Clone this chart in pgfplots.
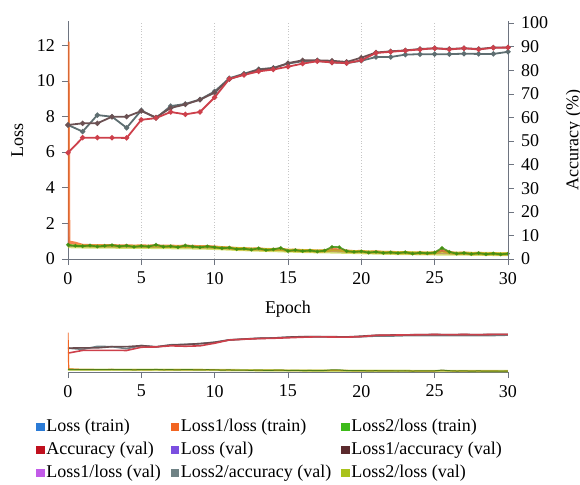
\documentclass[border=0pt]{standalone}
\usepackage{fontspec}
\setmainfont{Liberation Serif}
\usepackage{pgfplots}
\pgfplotsset{compat=1.18}
\usepackage{pgfplotstable}

\definecolor{clossT}{HTML}{2B7BD6}
\definecolor{cl1lossT}{HTML}{F26522}
\definecolor{cl2lossT}{HTML}{3DBB1A}
\definecolor{caccV}{HTML}{C0101E}
\definecolor{clossV}{HTML}{7B4FE0}
\definecolor{cl1accV}{HTML}{5B2A2E}
\definecolor{cl1lossV}{HTML}{C25BE8}
\definecolor{cl2accV}{HTML}{6F8285}
\definecolor{cl2lossV}{HTML}{A9C21B}
\definecolor{axisc}{HTML}{6E7480}

% validation accuracy, one row per epoch
\pgfplotstableread{
epoch accval l1acc l2acc
0  45.0 56.8 56.8
1  51.4 57.5 54.0
2  51.4 57.5 61.0
3  51.4 60.3 60.3
4  51.3 60.3 55.6
5  59.0 62.7 63.0
6  59.7 60.0 59.7
7  62.3 64.0 64.8
8  61.3 65.5 65.7
9  62.3 67.5 67.6
10 68.5 70.5 71.0
11 76.3 76.2 76.6
12 78.0 78.3 78.5
13 79.5 80.2 80.4
14 80.3 80.8 81.0
15 81.5 83.0 82.8
16 82.8 84.2 83.8
17 83.8 84.2 84.0
18 83.3 84.0 83.3
19 83.0 83.5 83.0
20 84.2 85.3 84.0
21 87.3 87.5 85.6
22 87.8 88.0 85.6
23 88.3 88.4 86.6
24 88.8 89.0 86.8
25 89.3 89.3 86.8
26 88.8 89.0 86.8
27 89.3 89.3 87.0
28 88.8 89.0 86.9
29 89.5 89.6 86.9
30 89.6 89.6 87.8
}\acctable

% validation losses, one row per epoch
\pgfplotstableread{
epoch lossval l1lossval l2lossval
0  0.72 0.74 0.72
1  0.70 0.72 0.70
2  0.70 0.71 0.70
3  0.69 0.70 0.69
4  0.68 0.70 0.68
5  0.68 0.69 0.68
6  0.67 0.68 0.67
7  0.66 0.67 0.66
8  0.65 0.66 0.65
9  0.64 0.65 0.64
10 0.62 0.63 0.62
11 0.58 0.59 0.58
12 0.55 0.56 0.55
13 0.52 0.53 0.52
14 0.50 0.51 0.50
15 0.47 0.48 0.47
16 0.45 0.46 0.45
17 0.43 0.44 0.43
18 0.42 0.43 0.42
19 0.40 0.41 0.40
20 0.38 0.39 0.38
21 0.36 0.37 0.36
22 0.34 0.35 0.34
23 0.33 0.34 0.33
24 0.32 0.33 0.32
25 0.31 0.32 0.31
26 0.30 0.31 0.30
27 0.30 0.31 0.30
28 0.29 0.30 0.29
29 0.28 0.29 0.28
30 0.28 0.29 0.28
}\vallosstable

% training losses, every half epoch
\pgfplotstableread{
epoch loss l1loss l2loss
0    2.00 12.20 0.80
0.05 0.78 0.95 0.78
0.5  0.72 0.88 0.74
1    0.71 0.76 0.72
1.5  0.72 0.75 0.76
2    0.70 0.74 0.70
2.5  0.71 0.74 0.74
3    0.72 0.75 0.78
3.5  0.70 0.73 0.71
4    0.71 0.74 0.75
4.5  0.69 0.72 0.68
5    0.70 0.73 0.73
5.5  0.69 0.72 0.70
6    0.71 0.74 0.80
6.5  0.68 0.71 0.69
7    0.69 0.72 0.72
7.5  0.67 0.70 0.66
8    0.70 0.72 0.76
8.5  0.68 0.70 0.70
9    0.66 0.69 0.65
9.5  0.67 0.69 0.71
10   0.64 0.67 0.66
10.5 0.60 0.63 0.60
11   0.60 0.62 0.64
11.5 0.56 0.58 0.55
12   0.56 0.58 0.58
12.5 0.53 0.55 0.52
13   0.55 0.57 0.60
13.5 0.50 0.52 0.50
14   0.51 0.53 0.54
14.5 0.53 0.55 0.62
15   0.46 0.48 0.45
15.5 0.47 0.49 0.50
16   0.44 0.46 0.44
16.5 0.45 0.47 0.48
17   0.42 0.44 0.42
17.5 0.44 0.46 0.47
18   0.50 0.52 0.68
18.5 0.49 0.51 0.66
19   0.42 0.44 0.44
19.5 0.39 0.41 0.40
20   0.40 0.42 0.43
20.5 0.36 0.38 0.36
21   0.38 0.40 0.40
21.5 0.34 0.36 0.34
22   0.35 0.37 0.37
22.5 0.32 0.34 0.33
23   0.34 0.36 0.38
23.5 0.30 0.32 0.30
24   0.32 0.34 0.35
24.5 0.30 0.32 0.32
25   0.32 0.34 0.36
25.5 0.45 0.47 0.62
26   0.34 0.36 0.40
26.5 0.29 0.31 0.30
27   0.31 0.33 0.34
27.5 0.27 0.29 0.28
28   0.30 0.32 0.33
28.5 0.26 0.28 0.27
29   0.28 0.30 0.31
29.5 0.25 0.27 0.26
30   0.27 0.29 0.30
}\traintable

\pgfplotsset{
  base/.style={scale only axis, width=220pt, xmin=0, xmax=30,
    font=\small, tick label style={font=\small},
    /pgf/number format/assume math mode=true,
    axis line style={axisc}, tick style={axisc}, tick align=outside,
    major tick length=3pt},
  accline/.style={line width=0.9pt, mark=*, mark size=0.8pt},
}

\begin{document}
\begin{tikzpicture}
\useasboundingbox (-34pt,-112.5pt) rectangle (256pt,129.5pt);

% ---- main chart: losses (left axis)
\begin{axis}[base, at={(0,0)}, anchor=south west, height=119pt,
  ymin=0, ymax=13.35, ytick={0,2,...,12}, xtick={0,5,...,30},
  axis x line*=bottom, axis y line*=left,
  xmajorgrids, grid style={densely dotted, gray!45, line width=0.4pt},
  xlabel={Epoch}, ylabel={Loss},
  ylabel style={yshift=0pt}, xlabel style={yshift=-1.5pt},
]
\addplot[clossV, line width=0.6pt] table[x=epoch, y=lossval] {\vallosstable};
\addplot[cl1lossV, line width=0.6pt] table[x=epoch, y=l1lossval] {\vallosstable};
\addplot[clossT!70!gray, line width=0.8pt] table[x=epoch, y=loss] {\traintable};
\addplot[cl1lossT, line width=1.6pt, opacity=0.8] table[x=epoch, y=l1loss] {\traintable};
\addplot[cl2lossV!80!yellow, line width=2pt, opacity=0.6] table[x=epoch, y=l2lossval] {\vallosstable};
\addplot[cl2lossT!70!black!90!yellow, line width=0.9pt, opacity=0.85, mark=*, mark size=0.4pt] table[x=epoch, y=l2loss] {\traintable};
\end{axis}

% ---- main chart: accuracy (right axis)
\begin{axis}[base, at={(0,0)}, anchor=south west, height=119pt,
  ymin=0, ymax=100.85, ytick={0,10,...,100},
  axis x line=none, axis y line*=right,
  ylabel={Accuracy (\%)}, ylabel style={yshift=-2pt},
]
\addplot[accline, cl2accV!85!black] table[x=epoch, y=l2acc] {\acctable};
\addplot[accline, cl1accV!55!gray] table[x=epoch, y=l1acc] {\acctable};
\addplot[accline, caccV!80!white] table[x=epoch, y=accval] {\acctable};
\end{axis}

% ---- overview strip: accuracy
\begin{axis}[base, at={(0,-35.5pt)}, anchor=north west, height=21pt,
  ymin=0, ymax=100, hide axis]
\addplot[cl2accV, line width=0.8pt] table[x=epoch, y=l2acc] {\acctable};
\addplot[cl1accV!60!gray, line width=0.8pt] table[x=epoch, y=l1acc] {\acctable};
\addplot[caccV!80!white, line width=0.8pt] table[x=epoch, y=accval] {\acctable};
\end{axis}

% ---- overview strip: losses, with the legend
\begin{axis}[base, at={(0,-35.5pt)}, anchor=north west, height=21pt,
  ymin=0, ymax=13, xtick={0,5,...,30},
  axis x line*=bottom, axis y line=none,
  legend columns=3,
  legend cell align=left,
  legend image code/.code={\fill[#1] (0pt,-1.8pt) rectangle (3.6pt,1.8pt);},
  legend style={draw=none, fill=none, font=\small, inner sep=0pt,
    at={(0,0)}, anchor=north west, xshift=-16pt, yshift=-22.5pt,
    row sep=1.75pt, nodes={inner sep=1pt},
    /tikz/every even column/.append style={column sep=4pt}},
]
\addplot[forget plot, cl1lossT, line width=0.6pt] table[x=epoch, y=l1loss] {\traintable};
\addplot[forget plot, cl2lossV, line width=1.2pt, opacity=0.6] table[x=epoch, y=l2lossval] {\vallosstable};
\addplot[forget plot, cl2lossT!60!black, line width=0.5pt, opacity=0.7] table[x=epoch, y=l2loss] {\traintable};
\addlegendimage{clossT}    \addlegendentry{Loss (train)}
\addlegendimage{cl1lossT}  \addlegendentry{Loss1/loss (train)}
\addlegendimage{cl2lossT}  \addlegendentry{Loss2/loss (train)}
\addlegendimage{caccV}     \addlegendentry{Accuracy (val)}
\addlegendimage{clossV}    \addlegendentry{Loss (val)}
\addlegendimage{cl1accV}   \addlegendentry{Loss1/accuracy (val)}
\addlegendimage{cl1lossV}  \addlegendentry{Loss1/loss (val)}
\addlegendimage{cl2accV}   \addlegendentry{Loss2/accuracy (val)}
\addlegendimage{cl2lossV}  \addlegendentry{Loss2/loss (val)}
\end{axis}
\end{tikzpicture}
\end{document}
